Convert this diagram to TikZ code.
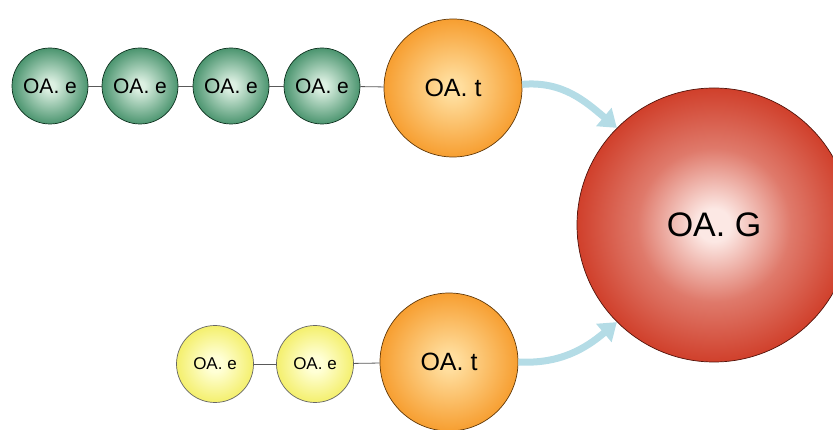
\documentclass[tikz,border=0pt]{standalone}
\usepackage{fontspec}
\setmainfont{Liberation Sans}
\usetikzlibrary{arrows.meta}
\definecolor{cGreenLo}{RGB}{36,124,80}
\definecolor{cGreenHi}{RGB}{220,240,226}
\definecolor{cYellowLo}{RGB}{240,234,72}
\definecolor{cYellowHi}{RGB}{255,255,214}
\definecolor{cOrangeLo}{RGB}{245,144,24}
\definecolor{cOrangeHi}{RGB}{255,222,158}
\definecolor{cRedLo}{RGB}{204,48,26}
\definecolor{cRedHi}{RGB}{252,232,228}
\definecolor{cArrow}{RGB}{180,220,230}
% ball shadings, the rim of the circle sits near 35bp
\pgfdeclareradialshading{shGreen}{\pgfpoint{0bp}{0bp}}{color(0bp)=(cGreenHi); color(3bp)=(cGreenHi); color(31bp)=(cGreenLo); color(50bp)=(cGreenLo)}
\pgfdeclareradialshading{shYellow}{\pgfpoint{0bp}{0bp}}{color(0bp)=(cYellowHi); color(5bp)=(cYellowHi); color(32bp)=(cYellowLo); color(50bp)=(cYellowLo)}
\pgfdeclareradialshading{shOrange}{\pgfpoint{0bp}{0bp}}{color(0bp)=(cOrangeHi); color(3bp)=(cOrangeHi); color(30bp)=(cOrangeLo); color(50bp)=(cOrangeLo)}
\pgfdeclareradialshading{shRed}{\pgfpoint{0bp}{0bp}}{color(0bp)=(cRedHi); color(3bp)=(cRedHi); color(14bp)=(cRedLo!60!cRedHi); color(28bp)=(cRedLo); color(50bp)=(cRedLo)}
\tikzset{
	ball/.style ={circle, inner sep=0pt, line width=0.7pt, text=black, align=center},
	eball/.style={ball, draw=black!60!cGreenLo, shading=shGreen, minimum size=76pt, font=\fontsize{21}{25}\selectfont},
	yball/.style={ball, draw=black!60, shading=shYellow, minimum size=77pt, font=\fontsize{17}{20}\selectfont},
	tball/.style={ball, draw=black!60!cOrangeLo, shading=shOrange, minimum size=138pt, font=\fontsize{25}{30}\selectfont},
	gball/.style={ball, draw=black!60!cRedLo, shading=shRed, minimum size=274pt, font=\fontsize{34}{40}\selectfont},
	link/.style ={draw=black!65, line width=0.8pt},
	feed/.style ={draw=cArrow, line width=7pt, -{Triangle[width=23pt,length=17pt]}},
}
\begin{document}
\begin{tikzpicture}[x=1pt, y=-1pt]
	\clip (0,0) rectangle (833,430);
	% upper chain
	\foreach \i/\x in {1/50, 2/140, 3/231, 4/322} {
		\node[eball] (e\i) at (\x,86) {OA. e};
	}
	\node[tball] (t1) at (453,88) {OA. t};
	\draw[link] (e1) -- (e2);
	\draw[link] (e2) -- (e3);
	\draw[link] (e3) -- (e4);
	\draw[link] (e4) -- (t1);
	% lower chain
	\node[yball] (y1) at (215,364) {OA. e};
	\node[yball] (y2) at (315,364) {OA. e};
	\node[tball] (t2) at (449,362) {OA. t};
	\draw[link] (y1) -- (y2);
	\draw[link] (y2) -- (t2);
	% target
	\node[gball] (g) at (714,225) {OA. G};
	\draw[feed] (t1.3) to[out=5, in=140] (g.135);
	\draw[feed] (t2.east) to[out=-3, in=-140] (g.225);
\end{tikzpicture}
\end{document}
